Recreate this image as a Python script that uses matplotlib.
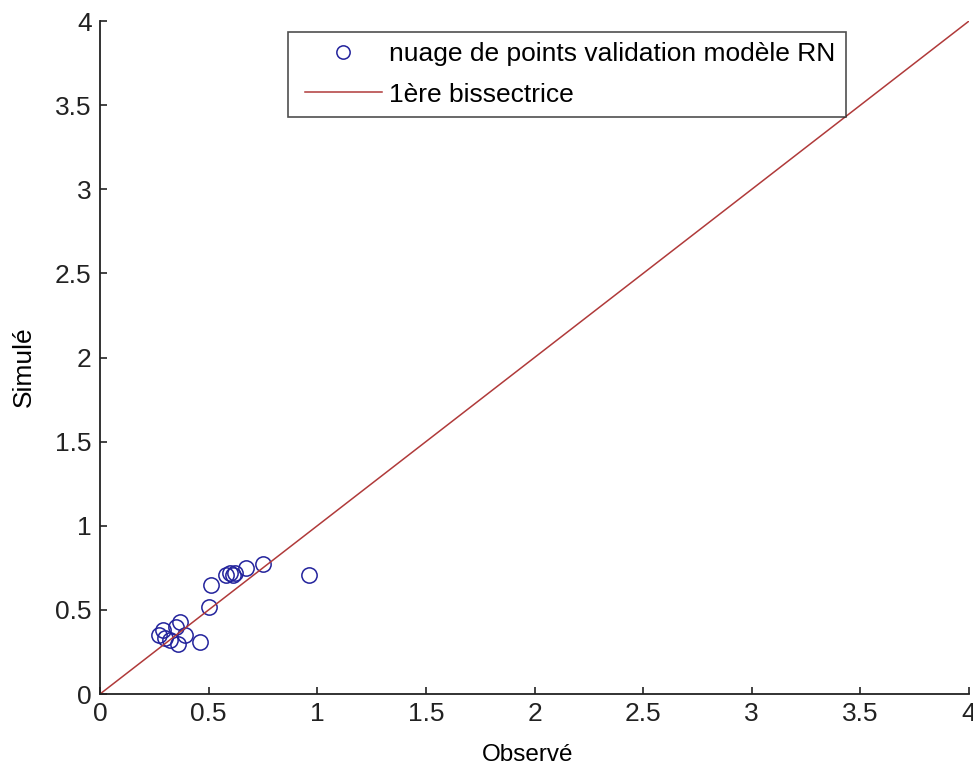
import numpy as np
import matplotlib.pyplot as plt
from matplotlib.legend_handler import HandlerLine2D

plt.rcParams['font.family'] = ['Liberation Sans', 'DejaVu Sans']

# observed vs simulated values of the validation set
observe = [0.27, 0.29, 0.30, 0.32, 0.35, 0.37, 0.36, 0.39, 0.46,
           0.50, 0.51, 0.58, 0.60, 0.62, 0.61, 0.67, 0.75, 0.96]
simule = [0.35, 0.38, 0.33, 0.32, 0.40, 0.43, 0.30, 0.35, 0.31,
          0.52, 0.65, 0.71, 0.72, 0.72, 0.71, 0.75, 0.77, 0.71]
bissectrice = [0, 4]
ticks = [0, 0.5, 1, 1.5, 2, 2.5, 3, 3.5, 4]
tick_labels = ['0', '0.5', '1', '1.5', '2', '2.5', '3', '3.5', '4']


class IndentedHandler(HandlerLine2D):
    """Line handle that leaves some blank space on its left."""

    def __init__(self, indent, **kw):
        super().__init__(**kw)
        self.indent = indent

    def create_artists(self, legend, orig_handle, xdescent, ydescent,
                       width, height, fontsize, trans):
        shift = self.indent * fontsize
        return super().create_artists(legend, orig_handle, xdescent - shift,
                                      ydescent, width - shift, height,
                                      fontsize, trans)


fig = plt.figure(figsize=(9.73, 7.65), dpi=100)
ax = fig.add_axes([0.1028, 0.0928, 0.8931, 0.8797])

pts, = ax.plot(observe, simule, 'o', color='#22229c', markerfacecolor='none',
               markersize=11, markeredgewidth=1.1,
               label='nuage de points validation modèle RN')
bis, = ax.plot(bissectrice, bissectrice, '-', color='#b03a3a', linewidth=1.1,
               label='1ère bissectrice')

ax.set_xlim(0, 4)
ax.set_ylim(0, 4)
ax.set_xticks(ticks)
ax.set_xticklabels(tick_labels)
ax.set_yticks(ticks)
ax.set_yticklabels(tick_labels)
ax.tick_params(direction='in', length=5, width=1.2, labelsize=19, pad=6,
               colors='#222222')
ax.spines['top'].set_visible(False)
ax.spines['right'].set_visible(False)
for side in ['left', 'bottom']:
    ax.spines[side].set_linewidth(1.3)
    ax.spines[side].set_color('#222222')

ax.set_xlabel('Observé', fontsize=17.5)
ax.set_ylabel('Simulé', fontsize=19)
ax.xaxis.set_label_coords(0.4925, -0.074)
ax.yaxis.set_label_coords(-0.0736, 0.486)

handler = IndentedHandler(0.24)
leg = ax.legend(loc='upper left', bbox_to_anchor=(0.2163, 0.984),
                fontsize=19, frameon=True, fancybox=False, borderpad=0.4,
                handlelength=3.16, handletextpad=0.27, labelspacing=0.62,
                markerscale=0.87, borderaxespad=0,
                handler_map={pts: handler, bis: handler})
leg.get_frame().set_edgecolor('#222222')
leg.get_frame().set_linewidth(1.2)

fig.savefig('out.png', dpi=100)
